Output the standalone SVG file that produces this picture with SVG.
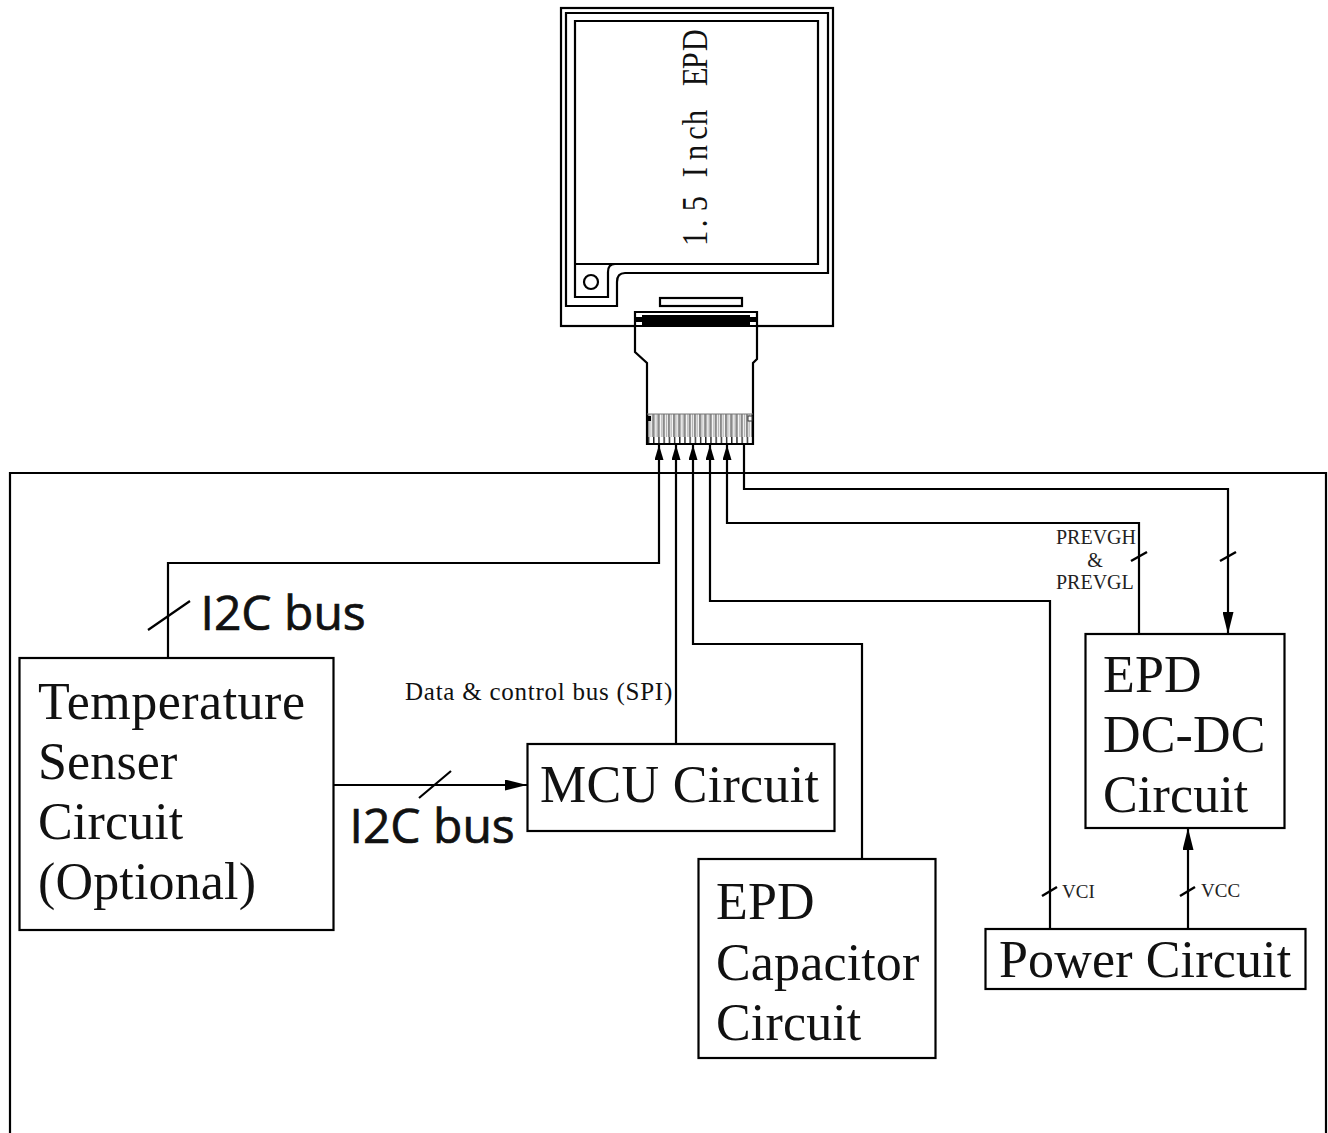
<svg xmlns="http://www.w3.org/2000/svg" width="1328" height="1133" viewBox="0 0 1328 1133">
<style>
.l{fill:none;stroke:#000;stroke-width:2.200}
.b{fill:#fff;stroke:#000;stroke-width:2.200}
.k{fill:none;stroke:#000;stroke-width:2.500}
.t{font-family:"Liberation Serif",serif;fill:#111}
.big{font-size:52px;letter-spacing:.15px}
.s{font-size:20px;fill:#222}
.v{font-size:19px;fill:#222}
.i{font-family:"Open Sans","Noto Sans",sans-serif;font-size:48px;fill:#111;stroke:#111;stroke-width:.7px}
</style>
<defs>
<marker id="a" markerUnits="userSpaceOnUse" markerWidth="15" markerHeight="9" refX="15" refY="4.500" orient="auto" viewBox="0 0 15 9"><path d="M15 4.500L0 9V0Z" fill="#000"/></marker>
<marker id="m" markerUnits="userSpaceOnUse" markerWidth="22" markerHeight="11" refX="22" refY="5.500" orient="auto" viewBox="0 0 22 11"><path d="M22 5.500L0 11V0Z" fill="#000"/></marker>
<pattern id="fp" width="5.200" height="30" patternUnits="userSpaceOnUse" x="647" y="414"><rect x="0" y="0" width="2.400" height="23" fill="#8a8a8a"/><rect x="3.400" y="0" width="1" height="23" fill="#b5b5b5"/><rect x="1" y="23" width="1.200" height="7" fill="#000"/></pattern>
</defs>
<rect width="1328" height="1133" fill="#fff"/>
<g id="board"><path class="l" d="M10 1133V473H1326V1133"/></g>
<g id="epd-panel">
<rect class="b" x="561" y="8" width="272" height="318"/>
<path class="l" d="M566 306V13H828V273H625Q617 273 617 282V306Z"/>
<path class="l" d="M575 264V21H818V264ZM575 264V297H608V272Q608 264 615 264"/>
<circle class="l" cx="591" cy="282" r="7"/>
<rect class="l" x="660" y="298" width="82" height="8"/>
<text class="t" transform="translate(707 246) rotate(-90) scale(.85 1)" font-size="36" fill="#222" x="0 22 33 41 59 81 101 125 142 165 188 208 229">1. 5 Inch EPD</text>
</g>
<g id="fpc">
<path class="b" d="M635 312H757V359L753 363V444H647V363L635 352Z"/>
<rect x="642" y="315" width="108" height="10" fill="#000"/>
<rect x="636" y="317" width="120" height="5" fill="#000"/>
<path class="l" d="M635 326H757"/>
<rect x="648" y="414" width="104" height="30" fill="url(#fp)"/>
<path d="M647 414H753" stroke="#777" stroke-width="1"/>
<rect x="647" y="416" width="4" height="5" fill="#000"/>
<rect x="748" y="416" width="4" height="5" fill="#fff" stroke="#333" stroke-width="1"/>
<path class="l" d="M647 444H753"/>
</g>
<g id="temperature"><rect class="b" x="19.500" y="658" width="314" height="272"/>
<text class="t big" x="38" y="719" style="letter-spacing:.5px">Temperature</text><text class="t big" x="38" y="779">Senser</text><text class="t big" x="38" y="839">Circuit</text><text class="t big" x="38" y="899">(Optional)</text></g>
<g id="mcu"><rect class="b" x="527.500" y="744" width="307" height="87"/><text class="t big" x="540" y="802" style="letter-spacing:.3px">MCU Circuit</text></g>
<g id="capacitor"><rect class="b" x="698.500" y="859" width="237" height="199"/>
<text class="t big" x="716" y="919">EPD</text><text class="t big" x="716" y="980">Capacitor</text><text class="t big" x="716" y="1040">Circuit</text></g>
<g id="dcdc"><rect class="b" x="1085.500" y="634" width="199" height="194"/>
<text class="t big" x="1103" y="692">EPD</text><text class="t big" x="1103" y="752">DC-DC</text><text class="t big" x="1103" y="812">Circuit</text></g>
<g id="power"><rect class="b" x="985.500" y="929" width="320" height="60"/><text class="t big" x="999" y="977">Power Circuit</text></g>
<g id="connectors">
<path class="l" d="M168 658V563H659V445" marker-end="url(#a)"/>
<path class="l" d="M676 744V445" marker-end="url(#a)"/>
<path class="l" d="M862 859V644H693V445" marker-end="url(#a)"/>
<path class="l" d="M1050 929V601H710V445" marker-end="url(#a)"/>
<path class="l" d="M1139 634V523H727V445" marker-end="url(#a)"/>
<path class="l" d="M744 444V489H1228V634" marker-end="url(#m)"/>
<path class="l" d="M1188 929V828" marker-end="url(#m)"/>
<path class="l" d="M334 785H527" marker-end="url(#m)"/>
<path class="l" d="M148 630L190 601M419 798L451 771"/>
<path class="k" d="M1131 561L1147 552M1220 561L1236 552M1042 896L1057 887M1180 896L1195 887"/>
</g>
<g id="labels">
<text class="i" x="200.500" y="630">I2C bus</text>
<text class="i" x="349.500" y="843">I2C bus</text>
<text class="t" x="405" y="700" font-size="25" letter-spacing=".75" fill="#222">Data &amp; control bus (SPI)</text>
<text class="t s" x="1056" y="544">PREVGH</text>
<text class="t s" x="1095" y="567" text-anchor="middle">&amp;</text>
<text class="t s" x="1056" y="589">PREVGL</text>
<text class="t v" x="1062" y="898">VCI</text>
<text class="t v" x="1201" y="897">VCC</text>
</g>
</svg>
